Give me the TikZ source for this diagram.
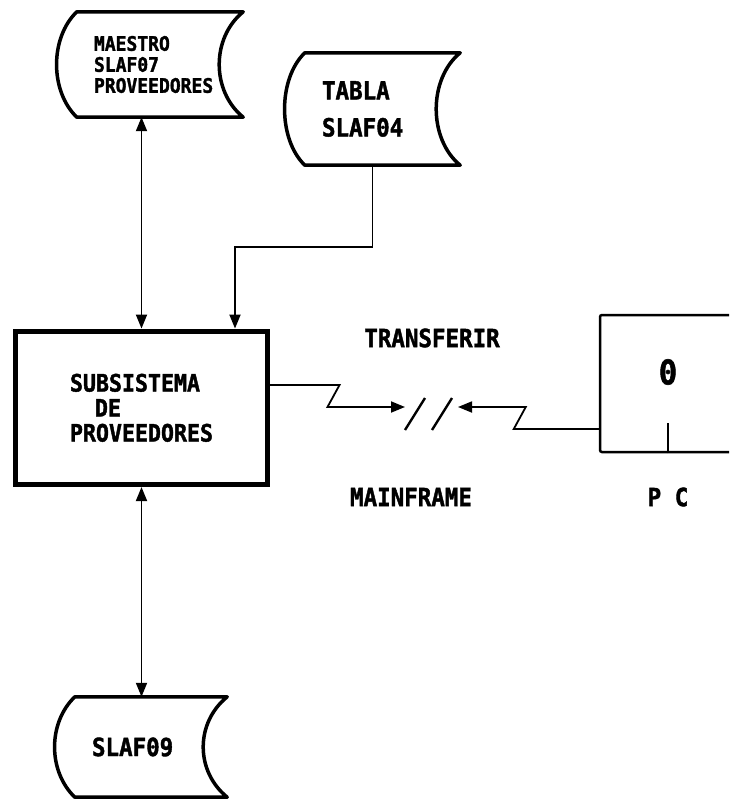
\documentclass[tikz,border=0pt]{standalone}
\usepackage{fontspec}
\usepackage{tikz}
\usetikzlibrary{arrows.meta}
\newfontfamily\dotfont[FakeStretch=0.9, BoldFeatures={FakeBold=1.6}]{DejaVu Sans Mono}
\uchyph=0

\begin{document}
\begin{tikzpicture}[
  x=1pt, y=1pt,
  >={Triangle[length=14pt,width=11pt]},
  every node/.style={font=\fontsize{25}{22}\dotfont\bfseries},
  datafile/.style 2 args={inner xsep=37pt, inner ysep=0pt, text width=#1, minimum height=#2, align=left,
    append after command={\pgfextra{\let\filenode\tikzlastnode
      \draw[line width=3.5pt, line join=round]
        ([xshift=20pt]\filenode.north west) -- (\filenode.north east)
        .. controls ([xshift=-32pt,yshift=-26pt]\filenode.north east)
                and ([xshift=-32pt,yshift=26pt]\filenode.south east) .. (\filenode.south east)
        -- ([xshift=20pt]\filenode.south west)
        .. controls ([xshift=-7pt,yshift=26pt]\filenode.south west)
                and ([xshift=-7pt,yshift=-26pt]\filenode.north west) .. cycle;}}},
  process/.style={draw, line width=5pt, minimum width=252pt, minimum height=153.5pt, align=left,
    font=\fontsize{24}{25}\dotfont\bfseries},
  pcbox/.style={draw, line width=2.5pt, rounded corners=2pt, minimum width=160pt, minimum height=137pt},
  link/.style={line width=1.8pt},
  slash/.style={line width=2.4pt}
]
\useasboundingbox (0,0) rectangle (729,-808);
\clip (0,0) rectangle (729,-808);

\node[datafile={112pt}{105pt}, font=\fontsize{20}{21}\dotfont\bfseries] (maestro) at (150,-64.5) {MAESTRO\\SLAF07\\PROVEEDORES};
\node[datafile={101pt}{112pt}] (tabla) at (372.5,-109) {TABLA\\[15pt]SLAF04};
\node[process] (sub) at (141.5,-407.8) {SUBSISTEMA\\\hspace*{25pt}DE\\PROVEEDORES};
\node[datafile={98pt}{100pt}] (slaf) at (141,-747) {SLAF09};
\node[pcbox] (pc) at (680,-383.5) {};
\node (screen) at (668,-372) {\fontsize{34}{34}\selectfont 0};
\node (transfer) at (432,-338) {TRANSFERIR};
\node (mainframe) at (411,-497) {MAINFRAME};
\node (pclabel) at (668,-497) {P C};
\coordinate (linkL) at (405,-407);
\coordinate (linkR) at (458,-407);

\draw[link, <->] (maestro.south -| sub.north) -- (sub.north);
\draw[link, ->] (tabla.south) -- ++(0,-82) -| ([xshift=93.5pt]sub.north);
\draw[link, <->] (sub.south) -- (sub.south |- slaf.north);
\draw[link, ->] ([yshift=22.8pt]sub.east) -- ++(69.5,0) -- ++(-12,-22) -- (linkL);
\draw[link, ->] ([yshift=-45.5pt]pc.west) -- ++(-85,0) -- ++(12,22) -- (linkR);
\draw[slash] ([shift={(0,-23)}]linkL) -- ++(20,32);
\draw[slash] ([shift={(27,-23)}]linkL) -- ++(20,32);
\draw[line width=2pt] (screen |- pc.south) -- ++(0,30);
\end{tikzpicture}
\end{document}
